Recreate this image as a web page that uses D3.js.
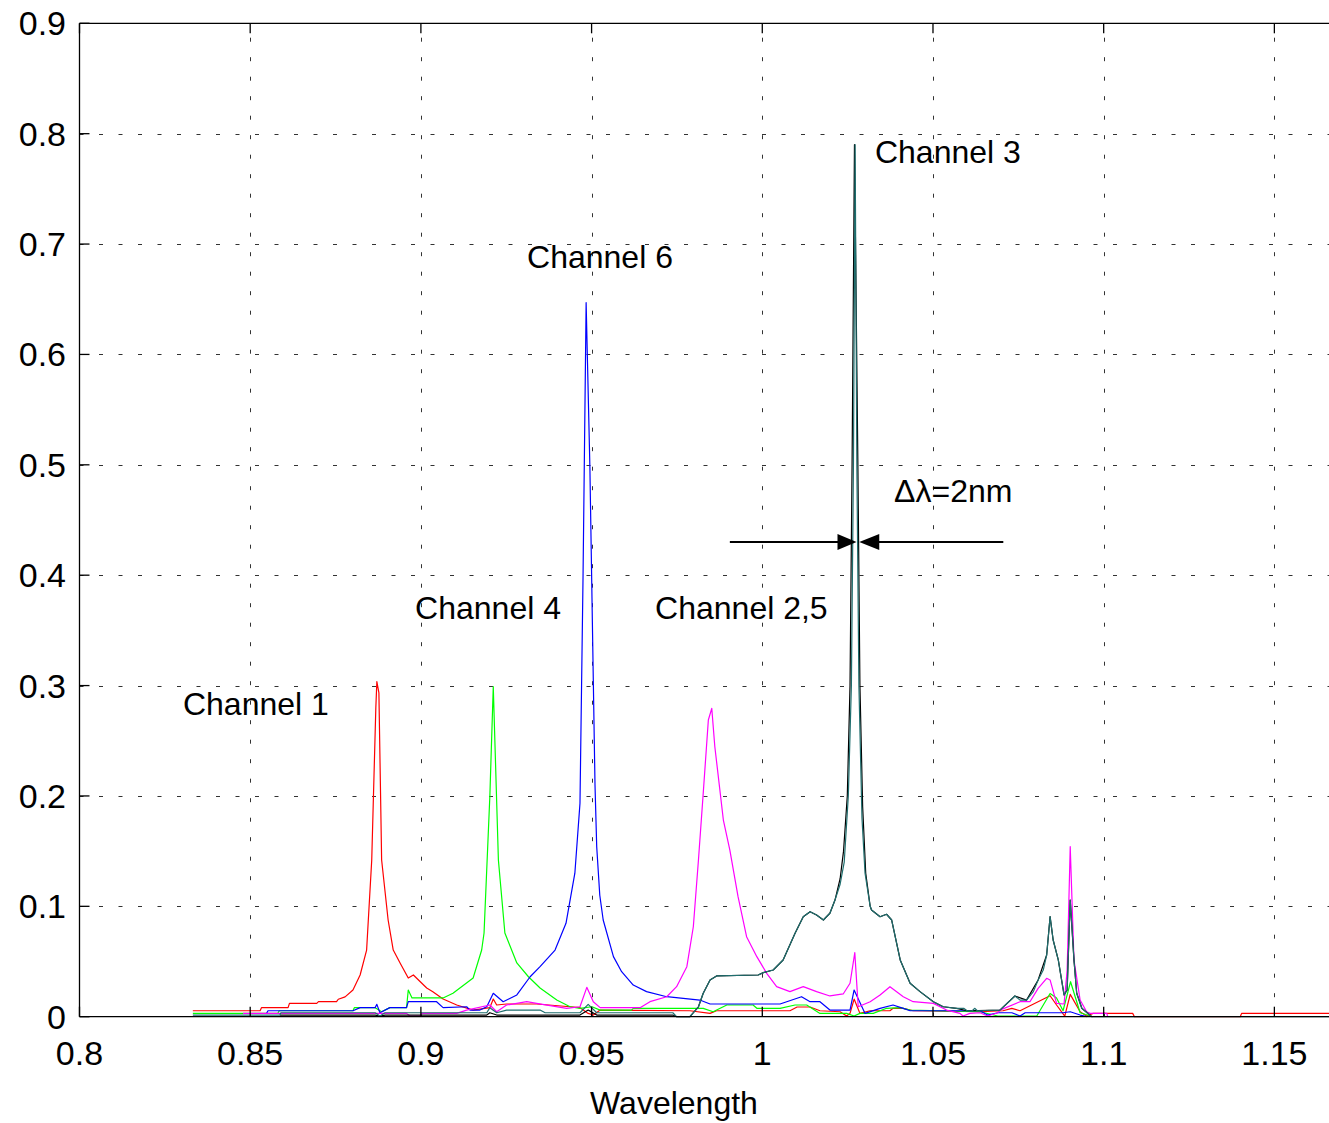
<!DOCTYPE html>
<html>
<head>
<meta charset="utf-8">
<script src="https://cdn.jsdelivr.net/npm/d3@7"></script>
<style>
  html, body { margin: 0; padding: 0; background: #fff; }
  svg { display: block; }
  text { font-family: "Liberation Sans", Arial, Helvetica, sans-serif; fill: #000; }
</style>
</head>
<body>
<svg id="chart" width="1329" height="1123"></svg>
<script>
// ---------- data ----------
const xTicks = [0.8, 0.85, 0.9, 0.95, 1, 1.05, 1.1, 1.15];
const xTickLabels = ["0.8", "0.85", "0.9", "0.95", "1", "1.05", "1.1", "1.15"];
const yTicks = [0, 0.1, 0.2, 0.3, 0.4, 0.5, 0.6, 0.7, 0.8, 0.9];
const yTickLabels = ["0", "0.1", "0.2", "0.3", "0.4", "0.5", "0.6", "0.7", "0.8", "0.9"];
const xTitle = "Wavelength";

// Channel 1 (red)
const ch1 = [[0.8332,0.0054],[0.8529,0.0054],[0.8533,0.0082],[0.8611,0.0082],[0.8615,0.0121],[0.8695,0.0121],[0.8700,0.0136],[0.8753,0.0136],[0.8758,0.0158],[0.8778,0.018],[0.8801,0.0242],[0.8822,0.0378],[0.8841,0.0604],[0.8856,0.142],[0.8868,0.28],[0.8871,0.3035],[0.8877,0.2933],[0.8885,0.142],[0.8904,0.0876],[0.8919,0.0604],[0.8939,0.0487],[0.8963,0.035],[0.8978,0.0378],[0.9017,0.026],[0.9035,0.0227],[0.9065,0.016],[0.9105,0.0106],[0.9153,0.006],[0.9202,0.0082],[0.9212,0.016],[0.9222,0.0106],[0.9251,0.0115],[0.9339,0.0115],[0.9437,0.009],[0.9466,0.0082],[0.9490,0.003],[0.9505,0.0015],[0.9525,0.006],[0.9788,0.0054],[0.9847,0.003],[0.9866,0.0054],[1.0081,0.0054],[1.0102,0.0088],[1.0140,0.0088],[1.0169,0.0054],[1.0228,0.0045],[1.0247,0.0006],[1.0257,0.003],[1.0269,0.016],[1.0286,0.003],[1.0316,0.0054],[1.0374,0.0054],[1.0383,0.0076],[1.0413,0.0076],[1.0442,0.0054],[1.0638,0.0045],[1.0705,0.0054],[1.0731,0.0076],[1.0755,0.0054],[1.0843,0.019],[1.0862,0.0106],[1.0886,0.0006],[1.0902,0.0202],[1.0931,0.0045],[1.0950,0.0006],[1.0969,0.003],[1.1085,0.003],[1.1090,0],[1.1400,0],[1.1404,0.003],[1.166,0.003]];

// Channel 4 (green)
const ch4 = [[0.8332,0.003],[0.8581,0.003],[0.8585,0.0054],[0.8801,0.0054],[0.8805,0.0082],[0.8866,0.0082],[0.8885,0.0045],[0.8909,0.0082],[0.8958,0.0082],[0.8963,0.0242],[0.8974,0.017],[0.9065,0.017],[0.9094,0.0212],[0.9153,0.0351],[0.9178,0.0604],[0.9185,0.0758],[0.9202,0.2],[0.9212,0.299],[0.9227,0.142],[0.9246,0.0758],[0.9281,0.0487],[0.9315,0.0362],[0.9349,0.026],[0.9398,0.0151],[0.9437,0.009],[0.9466,0.0076],[0.9501,0.009],[0.9525,0.006],[0.9617,0.006],[0.9622,0.0076],[0.9827,0.0076],[0.9856,0.0045],[0.9896,0.0106],[0.9973,0.0106],[0.9984,0.0076],[1.0052,0.0076],[1.0096,0.0106],[1.0130,0.0106],[1.0169,0.003],[1.0247,0.003],[1.0269,0.0006],[1.0286,0.003],[1.0325,0.003],[1.0364,0.0076],[1.0404,0.0082],[1.0433,0.006],[1.0638,0.0045],[1.0690,0.0006],[1.0804,0.0006],[1.0843,0.021],[1.0862,0.017],[1.0881,0.0054],[1.0903,0.0317],[1.0931,0.0036],[1.0969,0]];

// Channel 6 (blue)
const ch6 = [[0.8548,0.003],[0.8552,0.0054],[0.8801,0.0054],[0.8822,0.0082],[0.8866,0.0082],[0.8871,0.0112],[0.8880,0.0036],[0.8909,0.0082],[0.8958,0.0082],[0.8963,0.0136],[0.9046,0.0136],[0.9065,0.0082],[0.9134,0.009],[0.9144,0.006],[0.9173,0.006],[0.9193,0.009],[0.9212,0.0212],[0.9241,0.0136],[0.9281,0.0197],[0.9320,0.0362],[0.9349,0.0453],[0.9393,0.0604],[0.9425,0.0846],[0.9451,0.13],[0.9466,0.1934],[0.9475,0.40],[0.9484,0.6469],[0.9495,0.4983],[0.9500,0.4017],[0.9505,0.305],[0.9510,0.21],[0.9515,0.154],[0.9524,0.11],[0.9534,0.0876],[0.9564,0.0544],[0.9588,0.0408],[0.9622,0.0287],[0.9661,0.0227],[0.9720,0.0181],[0.9817,0.0151],[0.9847,0.0115],[1.0052,0.0115],[1.0115,0.0181],[1.0140,0.0136],[1.0169,0.0136],[1.0198,0.006],[1.0257,0.006],[1.0269,0.0242],[1.0301,0.003],[1.0345,0.0076],[1.0383,0.0106],[1.0413,0.0076],[1.0433,0.0054],[1.0638,0.0054],[1.0660,0.0015],[1.0690,0.0036],[1.0731,0.0036],[1.0755,0.0006],[1.0770,0.0036],[1.0880,0.0036],[1.0902,0.0045],[1.0931,0.0015],[1.0950,0]];

// Channel 2,5 (magenta)
const ch25 = [[0.8479,0.003],[0.8958,0.003],[0.8968,0.0006],[0.8997,0.0006],[0.9003,0.003],[0.9105,0.003],[0.9134,0.006],[0.9202,0.0106],[0.9222,0.0045],[0.9251,0.0106],[0.9310,0.0136],[0.9339,0.0121],[0.9427,0.0076],[0.9466,0.009],[0.9486,0.0266],[0.9505,0.0136],[0.9525,0.0082],[0.9642,0.0082],[0.9671,0.0136],[0.9720,0.0181],[0.9749,0.0272],[0.9779,0.0453],[0.9798,0.0815],[0.9813,0.142],[0.9827,0.2024],[0.9842,0.2688],[0.9852,0.2794],[0.9861,0.2446],[0.9886,0.1782],[0.9905,0.151],[0.9929,0.1087],[0.9954,0.0725],[0.9984,0.0544],[1.0013,0.0393],[1.0042,0.0272],[1.0081,0.0227],[1.0120,0.0272],[1.0159,0.0227],[1.0198,0.0188],[1.0237,0.0206],[1.0257,0.0303],[1.0271,0.058],[1.0281,0.009],[1.0316,0.0136],[1.0345,0.0197],[1.0374,0.0272],[1.0413,0.0181],[1.0442,0.0136],[1.0501,0.0121],[1.0540,0.006],[1.0579,0.003],[1.0588,0.0006],[1.0608,0.003],[1.0638,0.0036],[1.0660,0.0006],[1.0690,0.0036],[1.0696,0.006],[1.0755,0.0136],[1.0784,0.0136],[1.0808,0.0257],[1.0833,0.0348],[1.0843,0.0333],[1.0862,0.0121],[1.0884,0.0115],[1.0893,0.0423],[1.0902,0.154],[1.0913,0.0514],[1.0931,0.0151],[1.0950,0.0045],[1.0960,0.003],[1.1009,0.003],[1.1012,0]];

// Channel 3 (dark teal)
const ch3 = [[0.8332,0.0015],[0.8587,0.0015],[0.8590,0.0036],[0.8866,0.0036],[0.8880,0.0006],[0.8895,0.0036],[0.9193,0.0036],[0.9202,0.0082],[0.9222,0.0036],[0.9251,0.006],[0.9349,0.006],[0.9364,0.0036],[0.9466,0.0036],[0.9490,0.0112],[0.9515,0.0036],[0.9738,0.0036],[0.9749,0],[0.9788,0],[0.9813,0.009],[0.9827,0.0212],[0.9847,0.0333],[0.9866,0.0369],[0.9988,0.0378],[1.0003,0.0399],[1.0032,0.0423],[1.0061,0.0514],[1.0096,0.0756],[1.0120,0.0906],[1.0140,0.0951],[1.0159,0.0921],[1.0179,0.0876],[1.0198,0.0937],[1.0213,0.1057],[1.0228,0.1200],[1.0240,0.1400],[1.0252,0.2000],[1.0261,0.3000],[1.0267,0.5000],[1.0272,0.7900],[1.0277,0.5000],[1.0283,0.3000],[1.0292,0.1800],[1.0301,0.1300],[1.0316,0.1000],[1.0320,0.0967],[1.0345,0.0906],[1.0364,0.0928],[1.0379,0.0876],[1.0404,0.0514],[1.0433,0.0303],[1.0462,0.0227],[1.0501,0.0136],[1.0530,0.009],[1.0569,0.0076],[1.0590,0.0076],[1.0600,0.0054],[1.0615,0.0054],[1.0622,0.0076],[1.0630,0.0054],[1.0696,0.006],[1.0740,0.0188],[1.0755,0.015],[1.0774,0.015],[1.0794,0.0227],[1.0808,0.0333],[1.0823,0.0423],[1.0833,0.0559],[1.0843,0.0906],[1.0852,0.0695],[1.0867,0.0514],[1.0884,0.0197],[1.0893,0.0242],[1.0902,0.1057],[1.0913,0.0514],[1.0921,0.0212],[1.0936,0.0076],[1.0965,0],[1.166,0]];

// companion black trace under channel 3
const chBlack = [[0.8587,0.0015],[0.8866,0.0015],[0.8880,0.0006],[0.8895,0.0015],[0.9193,0.0015],[0.9202,0.0036],[0.9222,0.0015],[0.9466,0.0015],[0.9490,0.006],[0.9515,0.0015],[0.9738,0.0015],[0.9749,0],[0.9788,0],[0.9813,0.009],[0.9827,0.0212],[0.9847,0.0333],[0.9866,0.0369],[0.9988,0.0378],[1.0003,0.0399],[1.0032,0.0423],[1.0061,0.0514],[1.0096,0.0756],[1.0120,0.0906],[1.0140,0.0951],[1.0159,0.0921],[1.0179,0.0876],[1.0198,0.0937],[1.0213,0.1057],[1.0228,0.1250],[1.0238,0.1500],[1.0249,0.2000],[1.0257,0.3000],[1.0263,0.5000],[1.0270,0.7900],[1.0280,0.5000],[1.0286,0.3000],[1.0294,0.1900],[1.0303,0.1300],[1.0316,0.1000],[1.0320,0.0967],[1.0345,0.0906],[1.0364,0.0928],[1.0379,0.0876],[1.0404,0.0514],[1.0433,0.0303],[1.0462,0.0227],[1.0501,0.0136],[1.0530,0.009],[1.0569,0.0076],[1.0600,0.0054],[1.0696,0.006],[1.0740,0.0188],[1.0774,0.015],[1.0808,0.0333],[1.0833,0.0559],[1.0843,0.0906],[1.0852,0.0695],[1.0867,0.0514],[1.0884,0.0197],[1.0893,0.0242],[1.0902,0.1057],[1.0913,0.0514],[1.0921,0.0212],[1.0936,0.0076],[1.0965,0]];

const seriesList = [
  { name: "Channel 1", data: ch1, color: "#ff0000" },
  { name: "Channel 4", data: ch4, color: "#00ff00" },
  { name: "Channel 6", data: ch6, color: "#0000ff" },
  { name: "Channel 2,5", data: ch25, color: "#ff00ff" },
  { name: "black", data: chBlack, color: "#000000" },
  { name: "Channel 3", data: ch3, color: "#1f6e6e" }
];

// annotations
const labelTexts = ["Channel 1", "Channel 4", "Channel 2,5", "Channel 6", "Channel 3", "\u0394\u03bb=2nm"];
const labelX = [0.8303, 0.8983, 0.9686, 0.9311, 1.0330, 1.0386];
const labelY = [0.2734, 0.3603, 0.3603, 0.6783, 0.7735, 0.4663];
const arrowY = 0.43;
const arrowLeft = [0.9905, 1.0276];   // line start, tip
const arrowRight = [1.0706, 1.0284];  // line start, tip

// ---------- layout ----------
const svg = d3.select("#chart");
const pL = 79.5, pR = 1329, pT = 23.3, pB = 1016.7;
const x = d3.scaleLinear().domain([0.8, 1.166]).range([pL, pR]);
const y = d3.scaleLinear().domain([0, 0.9]).range([pB, pT]);

// grid
const grid = svg.append("g").attr("stroke", "#333").attr("stroke-width", 1).attr("stroke-dasharray", "4,15.5");
grid.selectAll("line.gx").data(xTicks.slice(1)).join("line").attr("class", "gx")
  .attr("x1", d => Math.round(x(d)) + 0.5).attr("x2", d => Math.round(x(d)) + 0.5)
  .attr("y1", pB).attr("y2", pT);
grid.selectAll("line.gy").data(yTicks.slice(1, -1)).join("line").attr("class", "gy")
  .attr("y1", d => Math.round(y(d)) + 0.5).attr("y2", d => Math.round(y(d)) + 0.5)
  .attr("x1", pL).attr("x2", pR);

// clip
svg.append("clipPath").attr("id", "clip").append("rect")
  .attr("x", pL).attr("y", pT).attr("width", pR - pL).attr("height", pB - pT + 2);

const line = d3.line().x(d => x(d[0])).y(d => y(d[1]));
svg.append("g").attr("clip-path", "url(#clip)")
  .selectAll("path").data(seriesList).join("path")
  .attr("d", d => line(d.data))
  .attr("fill", "none")
  .attr("stroke", d => d.color)
  .attr("stroke-width", 1.2)
  .attr("stroke-linejoin", "round");

// axes box (left, top, bottom)
const axisG = svg.append("g").attr("stroke", "#000").attr("stroke-width", 1.3);
axisG.append("line").attr("x1", pL).attr("x2", pL).attr("y1", pT).attr("y2", pB);
axisG.append("line").attr("x1", pL).attr("x2", pR).attr("y1", pT).attr("y2", pT);
axisG.append("line").attr("x1", pL).attr("x2", pR).attr("y1", pB).attr("y2", pB);

const tickLen = 10;
axisG.selectAll("line.tb").data(xTicks).join("line").attr("class", "tb")
  .attr("x1", d => x(d)).attr("x2", d => x(d)).attr("y1", pB).attr("y2", pB - tickLen);
axisG.selectAll("line.tt").data(xTicks).join("line").attr("class", "tt")
  .attr("x1", d => x(d)).attr("x2", d => x(d)).attr("y1", pT).attr("y2", pT + tickLen);
axisG.selectAll("line.tl").data(yTicks).join("line").attr("class", "tl")
  .attr("y1", d => y(d)).attr("y2", d => y(d)).attr("x1", pL).attr("x2", pL + tickLen);

// tick labels
svg.append("g").selectAll("text").data(xTicks).join("text")
  .attr("x", d => x(d)).attr("y", 1065)
  .attr("text-anchor", "middle").attr("font-size", 34)
  .text((d, i) => xTickLabels[i]);
svg.append("g").selectAll("text").data(yTicks).join("text")
  .attr("x", 66).attr("y", d => y(d) + 12)
  .attr("text-anchor", "end").attr("font-size", 34)
  .text((d, i) => yTickLabels[i]);

svg.append("text").attr("x", 674).attr("y", 1114).attr("text-anchor", "middle")
  .attr("font-size", 32).text(xTitle);

svg.append("g").selectAll("text").data(labelTexts).join("text")
  .attr("x", (d, i) => x(labelX[i])).attr("y", (d, i) => y(labelY[i]))
  .attr("font-size", 32).text(d => d);

// Δλ arrows
const ag = svg.append("g");
const ay = y(arrowY);
ag.append("line").attr("x1", x(arrowLeft[0])).attr("x2", x(arrowLeft[1]) - 10)
  .attr("y1", ay).attr("y2", ay).attr("stroke", "#000").attr("stroke-width", 2);
ag.append("path").attr("fill", "#000")
  .attr("d", `M${x(arrowLeft[1])},${ay} L${x(arrowLeft[1]) - 19},${ay - 8} L${x(arrowLeft[1]) - 19},${ay + 8} Z`);
ag.append("line").attr("x1", x(arrowRight[0])).attr("x2", x(arrowRight[1]) + 10)
  .attr("y1", ay).attr("y2", ay).attr("stroke", "#000").attr("stroke-width", 2);
ag.append("path").attr("fill", "#000")
  .attr("d", `M${x(arrowRight[1])},${ay} L${x(arrowRight[1]) + 20},${ay - 8} L${x(arrowRight[1]) + 20},${ay + 8} Z`);
</script>
</body>
</html>
